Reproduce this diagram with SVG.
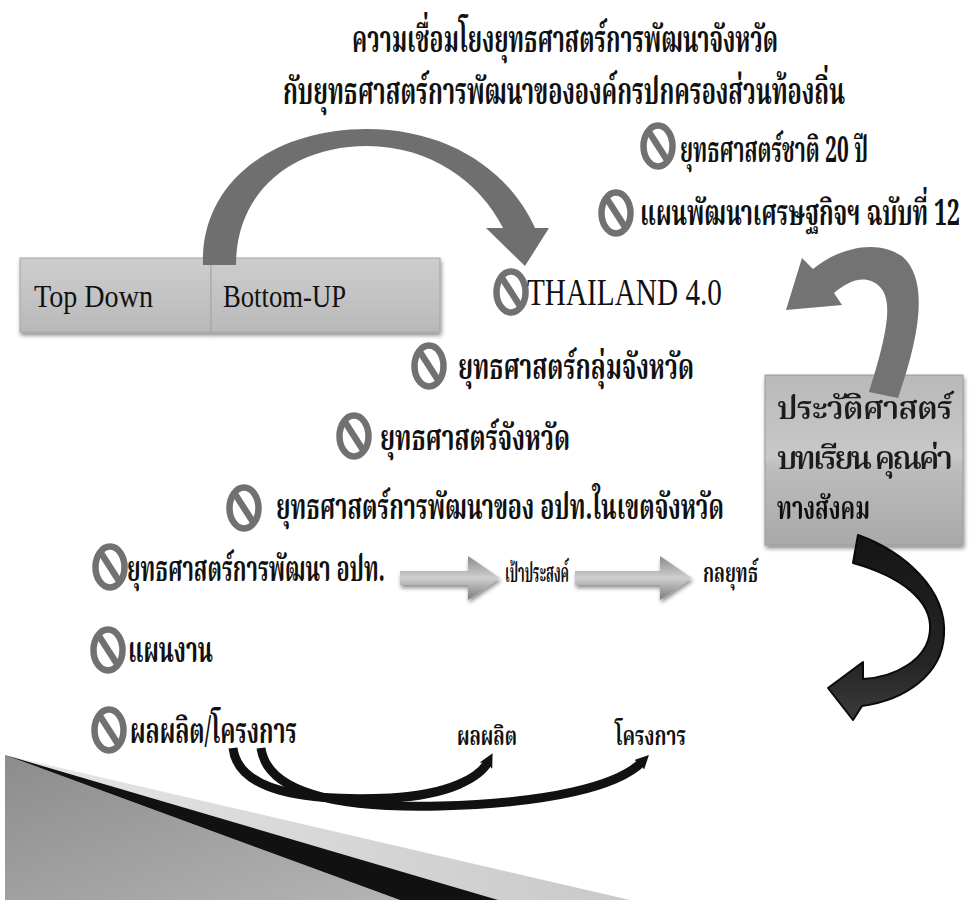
<svg xmlns="http://www.w3.org/2000/svg" xmlns:xlink="http://www.w3.org/1999/xlink" width="969" height="900" viewBox="0 0 969 900">
<style>
.th{font-family:"Noto Serif Thai","Noto Sans Thai Looped","Kinnari","Norasi","Laksaman","Noto Sans Thai","Noto Sans","DejaVu Sans",sans-serif;font-weight:bold;fill:#111}
.thr{font-family:"Noto Serif Thai","Noto Sans Thai Looped","Kinnari","Norasi","Laksaman","Noto Sans Thai","Noto Sans","DejaVu Sans",sans-serif;font-weight:600;fill:#1a1a1a}
.lat{font-family:"Liberation Serif","Times New Roman",serif;fill:#111}
</style>
<defs>
<g id="no">
<ellipse cx="0" cy="0" rx="14.5" ry="20.5" fill="none" stroke="#717171" stroke-width="6.5"/>
<line x1="-9" y1="-14" x2="9" y2="14" stroke="#717171" stroke-width="6.5"/>
</g>
<linearGradient id="boxG" x1="0" y1="0" x2="0" y2="1">
<stop offset="0" stop-color="#cdcdcd"/><stop offset="0.5" stop-color="#c4c4c4"/><stop offset="1" stop-color="#b8b8b8"/>
</linearGradient>
<linearGradient id="box2G" x1="0" y1="0" x2="0" y2="1">
<stop offset="0" stop-color="#b9b9b9"/><stop offset="0.48" stop-color="#c8c8c8"/><stop offset="0.55" stop-color="#bcbcbc"/><stop offset="1" stop-color="#a9a9a9"/>
</linearGradient>
<linearGradient id="harG" x1="0" y1="0" x2="0" y2="1">
<stop offset="0" stop-color="#8a8a8a"/><stop offset="0.5" stop-color="#cfcfcf"/><stop offset="1" stop-color="#7a7a7a"/>
</linearGradient>
<linearGradient id="wedgeG" x1="0" y1="0" x2="1" y2="1">
<stop offset="0" stop-color="#8c8c8c"/><stop offset="1" stop-color="#b4b4b4"/>
</linearGradient>
<linearGradient id="lightG" x1="0" y1="0" x2="1" y2="0">
<stop offset="0" stop-color="#e6e6e6"/><stop offset="1" stop-color="#c9c9c9"/>
</linearGradient>
<linearGradient id="blkG" x1="0" y1="0" x2="0" y2="1">
<stop offset="0" stop-color="#151515"/><stop offset="0.7" stop-color="#252525"/><stop offset="1" stop-color="#3c3c3c"/>
</linearGradient>
<filter id="sh" x="-10%" y="-10%" width="120%" height="130%">
<feGaussianBlur in="SourceAlpha" stdDeviation="2"/><feOffset dx="1" dy="3"/>
<feComponentTransfer><feFuncA type="linear" slope="0.45"/></feComponentTransfer>
<feMerge><feMergeNode/><feMergeNode in="SourceGraphic"/></feMerge>
</filter>
<marker id="bh" viewBox="0 0 10 10" refX="3" refY="5" markerWidth="14" markerHeight="14" markerUnits="userSpaceOnUse" orient="auto">
<path d="M0 0 L10 5 L0 10 L2 5 Z" fill="#111"/>
</marker>
</defs>

<g id="title">
<text class="th" x="352" y="52" font-size="38" textLength="426" lengthAdjust="spacingAndGlyphs">ความเชื่อมโยงยุทธศาสตร์การพัฒนาจังหวัด</text>
<text class="th" x="283" y="104" font-size="38" textLength="562" lengthAdjust="spacingAndGlyphs">กับยุทธศาสตร์การพัฒนาขององค์กรปกครองส่วนท้องถิ่น</text>
</g>

<g id="decor">
<polygon points="5,755 630,900 400,900" fill="url(#lightG)"/>
<polygon points="5,755 400,900 5,900" fill="url(#wedgeG)"/>
<polygon points="5,755 498,900 400,900" fill="#111"/>
</g>

<g id="box-topdown" filter="url(#sh)">
<rect x="20" y="258" width="191" height="74" fill="url(#boxG)" stroke="#a5a5a5" stroke-width="1"/>
<rect x="211" y="258" width="229" height="74" fill="url(#boxG)" stroke="#a5a5a5" stroke-width="1"/>
</g>
<g id="lbl-topdown">
<text class="lat" x="34" y="307" font-size="32" textLength="119" lengthAdjust="spacingAndGlyphs">Top Down</text>
<text class="lat" x="223" y="307" font-size="32" textLength="123" lengthAdjust="spacingAndGlyphs">Bottom-UP</text>
</g>

<g id="box-history" filter="url(#sh)">
<rect x="765" y="375" width="198" height="170" fill="url(#box2G)" stroke="#9a9a9a" stroke-width="1"/>
<text class="thr" x="777" y="419" font-size="32" textLength="176" lengthAdjust="spacing">ประวัติศาสตร์</text>
<text class="thr" x="777" y="469" font-size="32" textLength="176" lengthAdjust="spacing">บทเรียน คุณค่า</text>
<text class="th" x="777" y="519" font-size="32" textLength="93" lengthAdjust="spacingAndGlyphs">ทางสังคม</text>
</g>

<g id="connectors">
<path id="arc-top" d="M 203 265 C 200 185, 270 129, 367 129 C 445 129, 508 168, 535 228 L 549 228 L 525 266 L 486 228 L 503 228 C 480 182, 430 146, 367 146 C 292 146, 236 192, 236 265 Z" fill="#6f6f6f"/>
<path id="arc-right" d="M 786 310 L 802 258 L 813 269 C 838 248, 878 238, 903 257 C 928 280, 921 332, 898 398 L 869 392 C 888 332, 893 300, 880 287 C 866 273, 848 281, 834 293 L 842 305 Z" fill="#737373"/>
<path id="arc-black" d="M 858 535 C 905 552, 947 590, 944 635 C 942 675, 905 700, 862 706 L 853 720 L 828 688 L 863 662 L 863 679 C 895 677, 928 660, 930 630 C 932 600, 900 576, 853 563 Z" fill="url(#blkG)" stroke="#0a0a0a" stroke-width="2" stroke-linejoin="round"/>
<path id="har1" d="M 400 571 L 468 571 L 468 556 L 500 578 L 468 600 L 468 585 L 400 585 Z" fill="url(#harG)" filter="url(#sh)"/>
<path id="har2" d="M 575 571 L 660 571 L 660 556 L 692 578 L 660 600 L 660 585 L 575 585 Z" fill="url(#harG)" filter="url(#sh)"/>
<path id="c1" d="M 233 748 C 238 790, 300 802, 390 798 C 450 795, 480 777, 488 762" fill="none" stroke="#111" stroke-width="9" marker-end="url(#bh)"/>
<path id="c2" d="M 261 748 C 268 800, 360 808, 440 806 C 550 803, 618 786, 642 762" fill="none" stroke="#111" stroke-width="9" marker-end="url(#bh)"/>
</g>

<g id="n-national"><use href="#no" x="658" y="146"/>
<text class="th" x="680" y="162" font-size="36" textLength="188" lengthAdjust="spacingAndGlyphs">ยุทธศาสตร์ชาติ 20 ปี</text></g>
<g id="n-plan12"><use href="#no" x="616" y="213"/>
<text class="th" x="640" y="225" font-size="36" textLength="320" lengthAdjust="spacingAndGlyphs">แผนพัฒนาเศรษฐกิจฯ ฉบับที่ 12</text></g>
<g id="n-thailand"><use href="#no" x="511" y="292"/>
<text class="lat" x="527" y="305" font-size="38" textLength="195" lengthAdjust="spacingAndGlyphs">THAILAND 4.0</text></g>
<g id="n-group"><use href="#no" x="429" y="366"/>
<text class="th" x="458" y="379" font-size="36" textLength="236" lengthAdjust="spacingAndGlyphs">ยุทธศาสตร์กลุ่มจังหวัด</text></g>
<g id="n-province"><use href="#no" x="354" y="436"/>
<text class="th" x="380" y="450" font-size="36" textLength="190" lengthAdjust="spacingAndGlyphs">ยุทธศาสตร์จังหวัด</text></g>
<g id="n-lao-prov"><use href="#no" x="244" y="508"/>
<text class="th" x="276" y="519" font-size="36" textLength="448" lengthAdjust="spacingAndGlyphs">ยุทธศาสตร์การพัฒนาของ อปท.ในเขตจังหวัด</text></g>
<g id="n-lao"><use href="#no" x="110" y="567"/>
<text class="th" x="127" y="581" font-size="36" textLength="258" lengthAdjust="spacingAndGlyphs">ยุทธศาสตร์การพัฒนา อปท.</text></g>
<g id="n-goal"><text class="th" x="505" y="582" font-size="26" textLength="64" lengthAdjust="spacingAndGlyphs">เป้าประสงค์</text></g>
<g id="n-strategy"><text class="th" x="703" y="582" font-size="26" textLength="55" lengthAdjust="spacingAndGlyphs">กลยุทธ์</text></g>
<g id="n-workplan"><use href="#no" x="108" y="650"/>
<text class="th" x="128" y="662" font-size="36" textLength="85" lengthAdjust="spacingAndGlyphs">แผนงาน</text></g>
<g id="n-output"><use href="#no" x="109" y="730"/>
<text class="th" x="130" y="743" font-size="36" textLength="167" lengthAdjust="spacingAndGlyphs">ผลผลิต/โครงการ</text></g>
<g id="n-out"><text class="th" x="457" y="745" font-size="26" textLength="60" lengthAdjust="spacingAndGlyphs">ผลผลิต</text></g>
<g id="n-proj"><text class="th" x="615" y="745" font-size="26" textLength="71" lengthAdjust="spacingAndGlyphs">โครงการ</text></g>
</svg>
